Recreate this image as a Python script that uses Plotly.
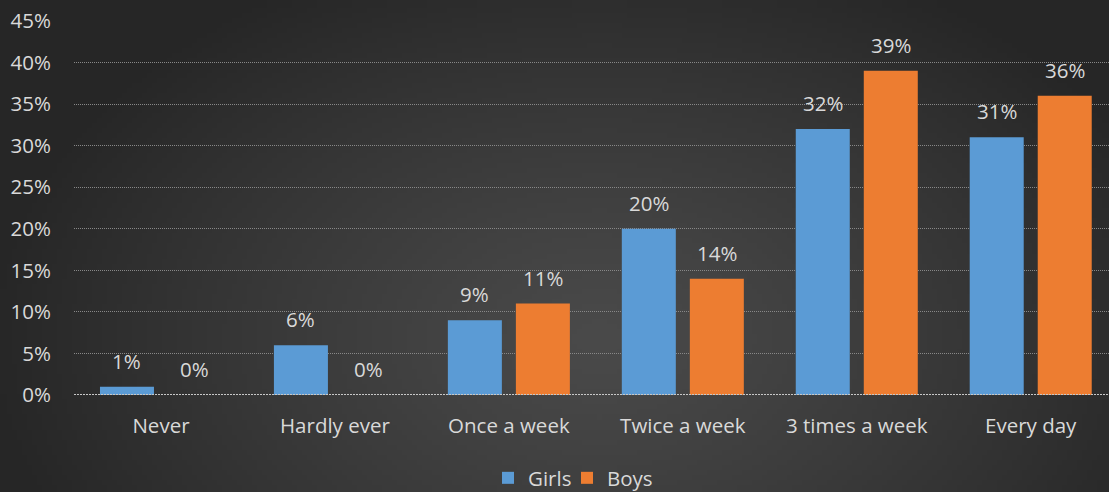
import struct
import zlib
import base64

import numpy as np
import plotly.graph_objects as go

# Survey frequencies (% of respondents)
categories = ["Never", "Hardly ever", "Once a week", "Twice a week", "3 times a week", "Every day"]
girls = [1, 6, 9, 20, 32, 31]
boys = [0, 0, 11, 14, 39, 36]
y_ticks = [0, 5, 10, 15, 20, 25, 30, 35, 40, 45]
y_tick_labels = [f"{v}%" for v in y_ticks]

W, H = 1109, 492
M_L, M_R, M_T, M_B = 74, 0, 21, 97
TEXT = "#d9d9d9"
FONT = "Open Sans"
FS = 20.5


def png_data_uri(rgb):
    """Encode an HxWx3 uint8 array as a PNG data URI."""
    h, w, _ = rgb.shape
    raw = b"".join(b"\x00" + rgb[r].tobytes() for r in range(h))

    def chunk(tag, data):
        c = struct.pack(">I", len(data)) + tag + data
        return c + struct.pack(">I", zlib.crc32(tag + data) & 0xFFFFFFFF)

    png = b"\x89PNG\r\n\x1a\n"
    png += chunk(b"IHDR", struct.pack(">IIBBBBB", w, h, 8, 2, 0, 0, 0))
    png += chunk(b"IDAT", zlib.compress(raw, 9))
    png += chunk(b"IEND", b"")
    return "data:image/png;base64," + base64.b64encode(png).decode()


# Soft radial backdrop: lighter in the middle, darker toward the edges
gw, gh = 222, 98
xx, yy = np.meshgrid(np.linspace(0, W, gw), np.linspace(0, H, gh))
d = np.sqrt(((xx - 600) / 620) ** 2 + ((yy - 340) / 420) ** 2)
t = np.clip(d, 0, 1)
inner, outer = 0x4a, 0x26
val = (inner + (outer - inner) * t ** 1.2).astype(np.uint8)
bg = np.dstack([val, val, val])

pw = W - M_L - M_R
ph = H - M_T - M_B

fig = go.Figure()
fig.add_trace(go.Bar(
    name="Girls", x=categories, y=girls, legend="legend",
    marker=dict(color="#5b9bd5", line=dict(width=0)),
))
fig.add_trace(go.Bar(
    name="Boys", x=categories, y=boys, legend="legend2",
    marker=dict(color="#ed7d31", line=dict(width=0)),
))

# Value labels above each bar
annotations = []
for cat, g, b in zip(categories, girls, boys):
    for v, dx in ((g, -34), (b, 34)):
        annotations.append(dict(
            x=cat, y=v, xref="x", yref="y", text=f"{v}%",
            showarrow=False, xshift=dx, yshift=26,
            font=dict(family=FONT, size=FS, color=TEXT),
        ))

legend_style = dict(
    orientation="h", xref="container", yref="container",
    xanchor="left", y=1 - 478 / H, yanchor="middle",
    font=dict(family=FONT, size=FS, color=TEXT),
    bgcolor="rgba(0,0,0,0)", itemwidth=30,
)

fig.update_layout(
    width=W, height=H,
    margin=dict(l=M_L, r=M_R, t=M_T, b=M_B, autoexpand=False),
    paper_bgcolor="#383838",
    plot_bgcolor="rgba(0,0,0,0)",
    barmode="group",
    bargap=0.218,
    bargroupgap=0.206,
    font=dict(family=FONT, size=FS, color=TEXT),
    showlegend=True,
    legend=dict(x=488 / W, **legend_style),
    legend2=dict(x=567 / W, **legend_style),
    annotations=annotations,
    images=[dict(
        source=png_data_uri(bg), xref="paper", yref="paper",
        x=-M_L / pw, y=1 + M_T / ph, sizex=W / pw, sizey=H / ph,
        xanchor="left", yanchor="top", sizing="stretch", layer="below",
    )],
    shapes=[dict(
        type="line", xref="paper", yref="y", x0=0, x1=1, y0=0, y1=0,
        line=dict(color="#c8c8c8", width=2, dash="2px,1px"), layer="above",
    )],
)
fig.update_xaxes(
    range=[-0.5, 5.45], showgrid=False, zeroline=False, showline=False,
    ticks="", automargin=False, ticklabelstandoff=16,
    tickfont=dict(family=FONT, size=FS, color=TEXT),
)
fig.update_yaxes(
    range=[0, 45], tickvals=y_ticks, ticktext=y_tick_labels,
    showgrid=True, gridcolor="#888888", gridwidth=1, griddash="1px,1px",
    zeroline=False, showline=False, ticks="", ticklabelstandoff=22,
    automargin=False,
    tickfont=dict(family=FONT, size=FS, color=TEXT),
)

fig.write_html("out.html")
